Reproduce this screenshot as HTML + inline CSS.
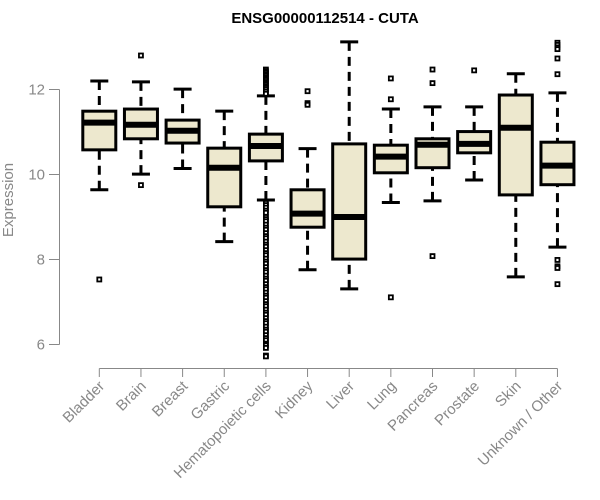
<!DOCTYPE html>
<html><head><meta charset="utf-8"><style>
body{margin:0;background:#fff}
svg{display:block;font-family:"Liberation Sans",Arial,sans-serif}
</style></head><body>
<svg id="chart" width="600" height="500" viewBox="0 0 600 500">
<text x="325" y="23" text-anchor="middle" font-weight="bold" font-size="15">ENSG00000112514 - CUTA</text>
<text transform="translate(13,200) rotate(-90)" text-anchor="middle" font-size="15" fill="#888">Expression</text>
<g id="axes"></g>
<g id="plot"></g>
</svg>
<script>
const categories=["Bladder","Brain","Breast","Gastric","Hematopoietic cells","Kidney","Liver","Lung","Pancreas","Prostate","Skin","Unknown / Other"];
const whiskerHigh=[12.2,12.18,12.01,11.49,11.85,10.61,13.12,11.54,11.59,11.59,12.37,11.92];
const q3=[11.49,11.54,11.28,10.62,10.95,9.64,10.72,10.69,10.84,11.01,11.87,10.76];
const medians=[11.22,11.17,11.03,10.16,10.67,9.08,9.0,10.42,10.7,10.72,11.1,10.21];
const q1=[10.58,10.84,10.74,9.24,10.32,8.76,8.01,10.04,10.16,10.51,9.52,9.76];
const whiskerLow=[9.64,10.01,10.14,8.42,9.4,7.76,7.31,9.34,9.38,9.87,7.59,8.29];
const outliers=[
 [7.53],
 [12.8,9.75],
 [],
 [],
 [12.47,12.43,12.4,12.36,12.32,12.28,12.24,12.2,12.16,12.12,12.08,12.04,12.0,11.95,11.9,
  9.33,9.28,9.22,9.15,9.1,9.0,8.95,8.9,8.82,8.75,8.7,8.62,8.55,8.5,8.42,8.35,8.3,8.22,8.15,8.1,8.02,7.95,7.9,7.82,7.75,7.7,7.62,7.55,7.5,7.42,7.35,7.3,7.22,7.15,7.1,7.02,6.95,6.9,6.82,6.75,6.7,6.62,6.55,6.5,6.42,6.35,6.3,6.22,6.15,6.1,6.02,5.98,5.92,5.74,5.72],
 [11.96,11.68,11.64],
 [],
 [12.26,11.77,7.11],
 [12.47,12.15,8.08],
 [12.45],
 [],
 [13.1,13.05,12.99,12.95,12.73,12.36,7.99,7.84,7.8,7.42]
];
const yTicks=[6,8,10,12];
const NS="http://www.w3.org/2000/svg";
function y(v){return 89.5+(12-v)*42.5;}
function x(i){return 99.3+i*41.65;}
function mk(tag,attrs,parent){const e=document.createElementNS(NS,tag);for(const k in attrs)e.setAttribute(k,attrs[k]);parent.appendChild(e);return e;}
const axes=document.getElementById('axes'),plot=document.getElementById('plot');
const ya=mk('line',{x1:59.5,x2:59.5,y1:y(12),y2:y(6),stroke:'#888','stroke-width':1},axes);


yTicks.forEach(t=>{
 const l=mk('line',{x1:49,x2:59.5,y1:y(t),y2:y(t),stroke:'#888'},axes);
 
 
 const tx=mk('text',{x:45,y:y(t)+5,'text-anchor':'end','font-size':15,fill:'#888'},axes);
 tx.textContent=t;
 
 
});
const xa=mk('line',{x1:x(0),x2:x(categories.length-1),y1:368.5,y2:368.5,stroke:'#888'},axes);


categories.forEach((c,i)=>{
 const l=mk('line',{x1:x(i),x2:x(i),y1:368.5,y2:377,stroke:'#888'},axes);
 
 
 const tx=mk('text',{transform:`translate(${x(i)+6},${387}) rotate(-45)`,'text-anchor':'end','font-size':15,fill:'#888'},axes);
 tx.textContent=c;
 
 
});
categories.forEach((c,i)=>{
 const cx=x(i),hw=16.5,cap=9;
 const g=mk('g',{},plot);
 
 
 mk('line',{x1:cx,x2:cx,y1:y(whiskerHigh[i]),y2:y(q3[i]),stroke:'#000','stroke-width':3,'stroke-dasharray':'9,6'},g);
 mk('line',{x1:cx,x2:cx,y1:y(whiskerLow[i]),y2:y(q1[i]),stroke:'#000','stroke-width':3,'stroke-dasharray':'9,6'},g);
 mk('line',{x1:cx-cap,x2:cx+cap,y1:y(whiskerHigh[i]),y2:y(whiskerHigh[i]),stroke:'#000','stroke-width':3},g);
 mk('line',{x1:cx-cap,x2:cx+cap,y1:y(whiskerLow[i]),y2:y(whiskerLow[i]),stroke:'#000','stroke-width':3},g);
 mk('rect',{x:cx-hw,y:y(q3[i]),width:hw*2,height:y(q1[i])-y(q3[i]),fill:'#EDE8CE',stroke:'#000','stroke-width':3},g);
 mk('line',{x1:cx-hw,x2:cx+hw,y1:y(medians[i]),y2:y(medians[i]),stroke:'#000','stroke-width':6},g);
 outliers[i].forEach(v=>{
  const p=mk('rect',{x:cx-2,y:y(v)-2,width:4,height:4,fill:'#fff',stroke:'#000','stroke-width':1.8},g);
  
  
 });
});
</script>
</body></html>
